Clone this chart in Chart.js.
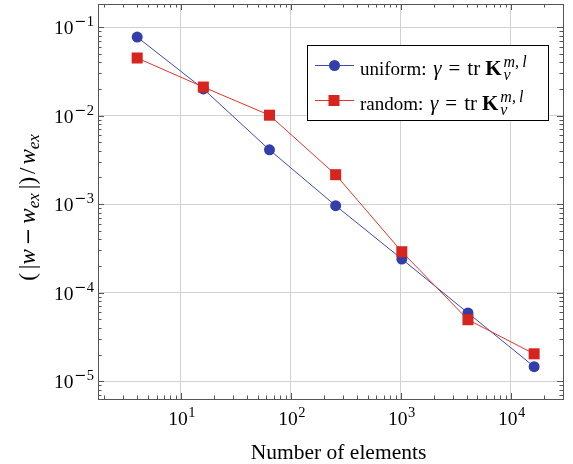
<!doctype html>
<html lang="en">
<head>
<meta charset="utf-8">
<script src="https://cdn.jsdelivr.net/npm/chart.js@4.4.1/dist/chart.umd.min.js"></script>
<title>Error vs elements</title>
<style>
  html, body { margin:0; padding:0; background:#fff; }
  #wrap { position:relative; width:573px; height:464px; }
</style>
</head>
<body>
<div id="wrap"><canvas id="grafica" width="573" height="464"></canvas></div>
<script>
// data
const elementos = [4, 16, 64, 256, 1024, 4096, 16384];
const errUniform = [0.077, 0.020, 0.0041, 0.00096, 0.00024, 0.000059, 0.0000146];
const errRandom = [0.0447, 0.021, 0.0101, 0.00215, 0.00029, 0.0000495, 0.0000204];
const xTicks = [10, 100, 1000, 10000];
const xExp = ['1', '2', '3', '4'];
const yTicks = [1e-5, 1e-4, 1e-3, 1e-2, 1e-1];
const yExp = ['5', '4', '3', '2', '1'];
const nombres = ['uniform: ', 'random: '];

const SERIF = '"Liberation Serif", "DejaVu Serif", serif';
const azul = 'rgb(52,62,170)';
const rojo = 'rgb(214,36,30)';

// draw a run of text pieces starting at x, return end x
// piece: {t, f, dy} text, {gap} blank space, {sup, sub, f} stacked scripts
function piezas(ctx, lista, x, y, medir) {
  for (const p of lista) {
    if (p.gap) { x += p.gap; continue; }
    ctx.font = p.f;
    if (p.sup) {
      const w = Math.max(ctx.measureText(p.sup).width, ctx.measureText(p.sub).width);
      if (!medir) {
        ctx.fillText(p.sup, x, y - 8);
        ctx.fillText(p.sub, x, y + 5);
      }
      x += w;
      continue;
    }
    if (!medir) ctx.fillText(p.t, x, y + (p.dy || 0));
    x += ctx.measureText(p.t).width;
  }
  return x;
}
const ancho = (ctx, lista) => piezas(ctx, lista, 0, 0, true);

const extras = {
  id: 'extras',
  afterDraw(chart) {
    const { ctx, chartArea: a, scales: { x, y } } = chart;
    ctx.save();
    ctx.strokeStyle = '#555';
    ctx.lineWidth = 1;

    // inward tick marks on all four sides
    ctx.beginPath();
    for (let d = -7; d <= 5; d++) {
      for (let k = 1; k <= 9; k++) {
        const v = k * Math.pow(10, d);
        const len = k === 1 ? 6 : 3.5;
        if (v >= x.min && v <= x.max) {
          const px = Math.round(x.getPixelForValue(v)) + 0.5;
          ctx.moveTo(px, a.bottom); ctx.lineTo(px, a.bottom - len);
          ctx.moveTo(px, a.top); ctx.lineTo(px, a.top + len);
        }
        if (v >= y.min && v <= y.max) {
          const py = Math.round(y.getPixelForValue(v)) + 0.5;
          ctx.moveTo(a.left, py); ctx.lineTo(a.left + len, py);
          ctx.moveTo(a.right, py); ctx.lineTo(a.right - len, py);
        }
      }
    }
    ctx.stroke();
    ctx.strokeRect(Math.round(a.left) + 0.5, Math.round(a.top) + 0.5,
      Math.round(a.right - a.left), Math.round(a.bottom - a.top));

    // tick labels with superscripts
    ctx.fillStyle = '#000';
    ctx.textBaseline = 'alphabetic';
    const fBase = '19.5px ' + SERIF;
    const fExp = '14.5px ' + SERIF;
    const fMenos = '14.5px "DejaVu Serif", serif';
    xTicks.forEach((v, i) => {
      const lista = [{ t: '10', f: fBase }, { gap: 0.5 }, { t: xExp[i], f: fExp, dy: -8 }];
      const w = ancho(ctx, lista);
      piezas(ctx, lista, x.getPixelForValue(v) - w / 2 + 1, a.bottom + 26);
    });
    yTicks.forEach((v, i) => {
      const lista = [{ t: '10', f: fBase }, { gap: 0.5 }, { t: '\u2212', f: fMenos, dy: -8 },
        { gap: 0.5 }, { t: yExp[i], f: fExp, dy: -8 }];
      const w = ancho(ctx, lista);
      piezas(ctx, lista, a.left - 4 - w, y.getPixelForValue(v) + 7);
    });

    // axis titles
    ctx.font = '21.5px ' + SERIF;
    ctx.textAlign = 'center';
    ctx.fillText('Number of elements', (a.left + a.right) / 2 + 8, 459);
    ctx.textAlign = 'left';

    const fT = '23px ' + SERIF;
    const fI = 'italic 23px ' + SERIF;
    const fS = 'italic 17px ' + SERIF;
    const fM = '21px "DejaVu Serif", serif';
    const titulo = [
      { t: '(', f: fT }, { gap: 4 }, { t: '|', f: fT }, { t: 'w', f: fI }, { gap: 4 },
      { t: '\u2212', f: fM }, { gap: 4 },
      { t: 'w', f: fI }, { t: 'ex', f: fS, dy: 4 }, { gap: 4 }, { t: '|)', f: fT },
      { gap: 3 }, { t: '/', f: fT }, { gap: 3 },
      { t: 'w', f: fI }, { t: 'ex', f: fS, dy: 4 }
    ];
    const wt = ancho(ctx, titulo);
    ctx.save();
    ctx.translate(35, (a.top + a.bottom) / 2 + 6);
    ctx.rotate(-Math.PI / 2);
    piezas(ctx, titulo, -wt / 2, 0);
    ctx.restore();

    // legend box
    const lx = 307, ly = 45, lw = 241, lh = 75;
    ctx.fillStyle = '#fff';
    ctx.fillRect(lx, ly, lw, lh);
    ctx.strokeStyle = '#000';
    ctx.strokeRect(lx + 0.5, ly + 0.5, lw, lh);
    const fL = '19px ' + SERIF;
    const fLM = '21px ' + SERIF;
    const fLI = 'italic 21px ' + SERIF;
    const fLB = 'bold 21px ' + SERIF;
    const fLS = 'italic 16px ' + SERIF;
    chart.data.datasets.forEach((ds, i) => {
      const cy = ly + 20 + i * 35;
      ctx.strokeStyle = ds.borderColor;
      ctx.lineWidth = 1;
      ctx.beginPath();
      ctx.moveTo(315, cy + 0.5); ctx.lineTo(354, cy + 0.5);
      ctx.stroke();
      ctx.fillStyle = ds.pointBackgroundColor;
      if (ds.pointStyle === 'rect') ctx.fillRect(334 - 5.5, cy - 5, 11, 11);
      else { ctx.beginPath(); ctx.arc(334.5, cy + 0.5, 5.5, 0, Math.PI * 2); ctx.fill(); }
      ctx.fillStyle = '#000';
      piezas(ctx, [
        { t: nombres[i], f: fL }, { gap: 2 }, { t: '\u03b3', f: fLI }, { gap: 7 }, { t: '=', f: fLM },
        { gap: 7 }, { t: 'tr', f: fLM }, { gap: 5 },
        { t: 'K', f: fLB }, { gap: 2 }, { sup: 'm,\u2009l', sub: 'v', f: fLS }
      ], 360, cy + 10);
    });
    ctx.restore();
  }
};

const canvas = document.getElementById('grafica').getContext('2d');

const chart = new Chart(canvas, {
  type: 'line',
  data: {
    datasets: [
      {
        label: 'uniform',
        data: elementos.map((v, i) => ({ x: v, y: errUniform[i] })),
        borderColor: 'rgb(60,72,185)',
        borderWidth: 1,
        pointStyle: 'circle',
        pointRadius: 5.5,
        pointBackgroundColor: azul,
        pointBorderWidth: 0,
        order: 1
      },
      {
        label: 'random',
        data: elementos.map((v, i) => ({ x: v, y: errRandom[i] })),
        borderColor: 'rgb(232,50,40)',
        borderWidth: 1,
        pointStyle: 'rect',
        pointRadius: 7.8,
        pointBackgroundColor: rojo,
        pointBorderWidth: 0,
        order: 0
      }
    ]
  },
  options: {
    responsive: false,
    animation: false,
    layout: { autoPadding: false, padding: { top: 4, right: 10, left: 0, bottom: 0 } },
    plugins: { legend: { display: false }, tooltip: { enabled: false } },
    scales: {
      x: {
        type: 'logarithmic',
        min: 1.76,
        max: 30000,
        afterBuildTicks: s => { s.ticks = xTicks.map(v => ({ value: v })); },
        afterFit: s => { s.height = 65; },
        ticks: { display: false },
        grid: { color: '#d2d2d2', lineWidth: 1, drawTicks: false },
        border: { display: false }
      },
      y: {
        type: 'logarithmic',
        min: 6.3e-6,
        max: 0.182,
        afterBuildTicks: s => { s.ticks = yTicks.map(v => ({ value: v })); },
        afterFit: s => { s.width = 98; },
        ticks: { display: false },
        grid: { color: '#d2d2d2', lineWidth: 1, drawTicks: false },
        border: { display: false }
      }
    }
  },
  plugins: [extras]
});
</script>
</body>
</html>
